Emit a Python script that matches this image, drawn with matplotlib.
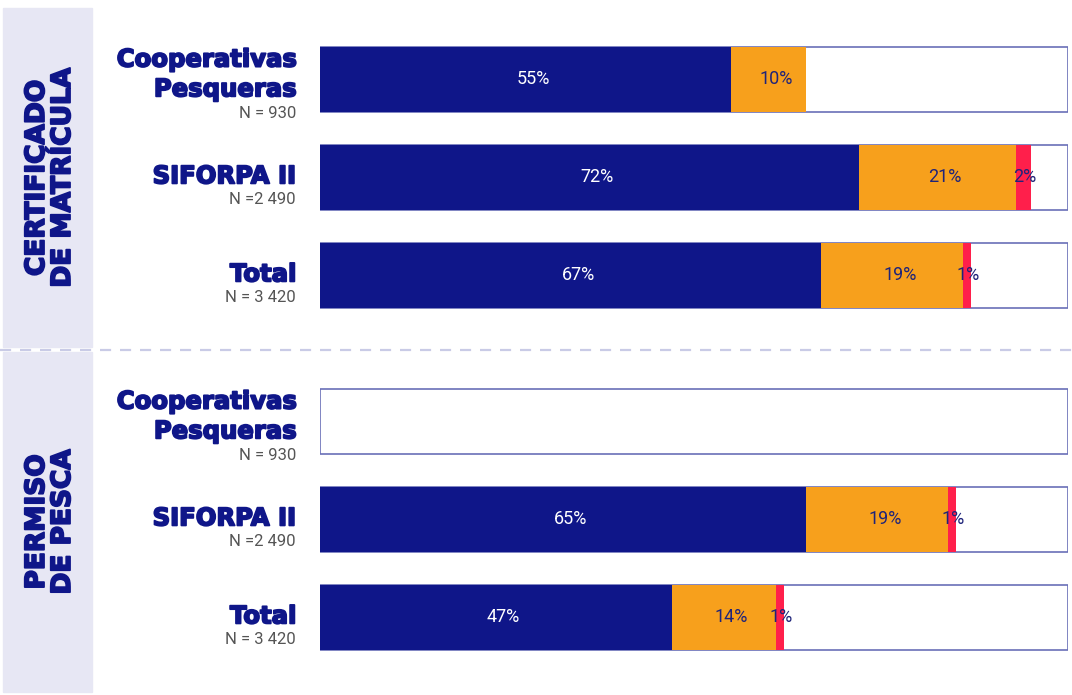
import matplotlib.pyplot as plt
import matplotlib.transforms as mtransforms
import matplotlib.patheffects as pe

names = ["Cooperativas\nPesqueras", "SIFORPA II", "Total",
         "Cooperativas\nPesqueras", "SIFORPA II", "Total"]
n_labels = ["N = 930", "N =2 490", "N = 3 420", "N = 930", "N =2 490", "N = 3 420"]
groups = ["CERTIFICADO\nDE MATRÍCULA", "PERMISO\nDE PESCA"]

navy_vals = [55, 72, 67, 0, 65, 47]
orange_vals = [10, 21, 19, 0, 19, 14]
red_vals = [0, 2, 1, 0, 1, 1]

NAVY = "#0f1689"
ORANGE = "#f7a01c"
RED = "#ff1f4b"
BAND = "#e7e7f4"
EDGE = "#6a6fb8"

plt.rcParams['font.family'] = ['Roboto', 'DejaVu Sans']
HEAVY = ['DejaVu Sans']
thick = [pe.withStroke(linewidth=1.3, foreground=NAVY)]

W, H = 1072, 695
fig = plt.figure(figsize=(W / 100, H / 100), dpi=100)
fig.patch.set_facecolor("white")

unit = 98.0
ax = fig.add_axes([320 / W, 0, 748 / W, 1])
ax.set_xlim(0, 100)
ax.set_ylim(H / unit, 0)
ax.axis("off")

pos = [0.81 + i + (0.49 if i >= 3 else 0) for i in range(6)]
bh = 0.67

# background band and separator
fig.patches.append(plt.Rectangle((3 / W, 1 - 347 / H), 89 / W, 339 / H,
                                 transform=fig.transFigure, color=BAND, zorder=0))
fig.patches.append(plt.Rectangle((3 / W, 1 - 692 / H), 89 / W, 340 / H,
                                 transform=fig.transFigure, color=BAND, zorder=0))
fig.lines.append(plt.Line2D([0, 1], [1 - 350 / H] * 2, transform=fig.transFigure,
                            color="#c9cbe6", lw=1.6, ls=(0, (5, 4))))

for g, yc in zip(groups, [178, 522]):
    fig.text(50 / W, 1 - yc / H, g, rotation=90, ha="center", va="center",
             color=NAVY, fontsize=19, fontweight="bold", family=HEAVY,
             linespacing=1.0, path_effects=thick)

ax.barh(pos, [100] * 6, height=bh, color="white", edgecolor=EDGE, lw=1.2, zorder=1)
ax.barh(pos, navy_vals, height=bh, color=NAVY, zorder=2)
ax.barh(pos, orange_vals, left=navy_vals, height=bh, color=ORANGE, zorder=2)
lefts = [a + b for a, b in zip(navy_vals, orange_vals)]
ax.barh(pos, red_vals, left=lefts, height=bh, color=RED, zorder=2)

for i, y in enumerate(pos):
    segs = [(0, navy_vals[i], "white"),
            (navy_vals[i], orange_vals[i], "#1f247a"),
            (lefts[i], red_vals[i], "#1f247a")]
    for left, v, c in segs:
        if v > 0:
            ax.text(left + v / 2 + (1.0 if v > 5 else 0.2), y, f"{v}%", ha="center",
                    va="center", color=c, fontsize=13, zorder=3)

trans = mtransforms.blended_transform_factory(fig.transFigure, ax.transData)
for i, y in enumerate(pos):
    if "\n" in names[i]:
        ax.text(296 / W, y - 0.05, names[i], transform=trans, ha="right", va="center",
                color=NAVY, fontsize=17.5, fontweight="bold", family=HEAVY,
                linespacing=1.3, clip_on=False, path_effects=thick)
        ax.text(296 / W, y + 0.35, n_labels[i], transform=trans, ha="right", va="center",
                color="#555555", fontsize=12, clip_on=False)
    else:
        ax.text(296 / W, y - 0.01, names[i], transform=trans, ha="right", va="center",
                color=NAVY, fontsize=17.5, fontweight="bold", family=HEAVY,
                clip_on=False, path_effects=thick)
        ax.text(296 / W, y + 0.23, n_labels[i], transform=trans, ha="right", va="center",
                color="#555555", fontsize=12, clip_on=False)

fig.savefig("out.png", dpi=100)
